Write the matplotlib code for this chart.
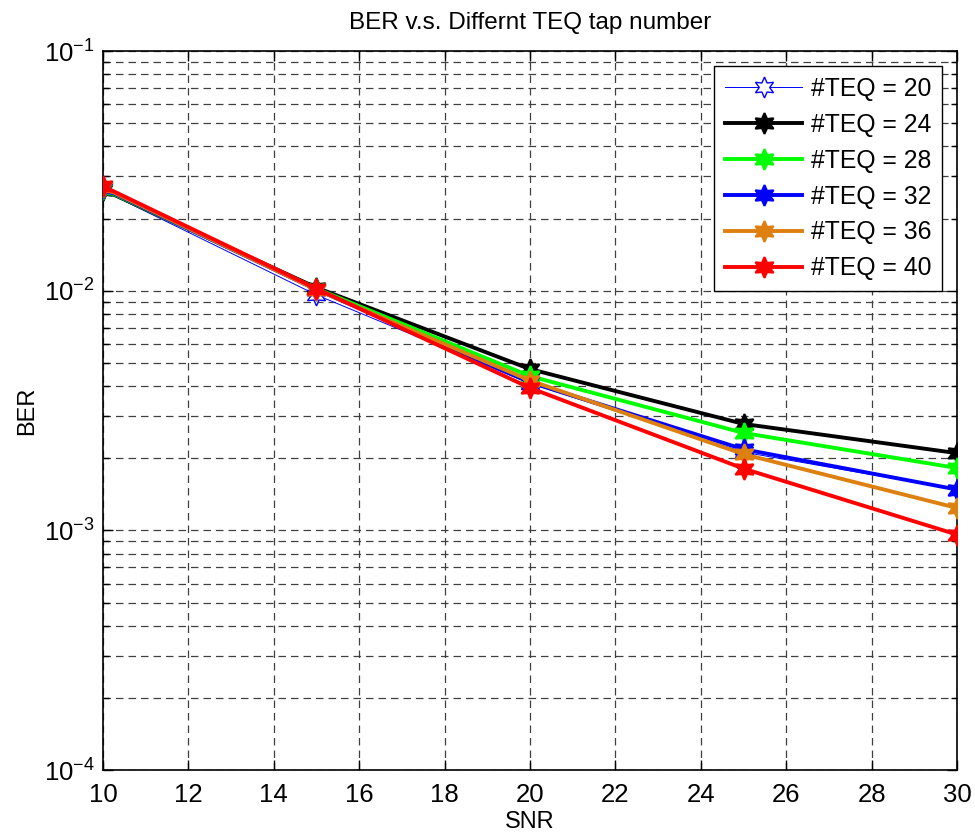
import matplotlib
matplotlib.use("Agg")
import matplotlib.pyplot as plt
from matplotlib.ticker import LogLocator, FuncFormatter, NullFormatter
import numpy as np

plt.rcParams['font.family'] = ['Liberation Sans', 'DejaVu Sans']
plt.rcParams['mathtext.fontset'] = 'custom'
plt.rcParams['mathtext.rm'] = 'Liberation Sans'
plt.rcParams['mathtext.it'] = 'Liberation Sans'
plt.rcParams['mathtext.default'] = 'regular'

snr = [10, 15, 20, 25, 30]
teq_labels = ['#TEQ = 20', '#TEQ = 24', '#TEQ = 28', '#TEQ = 32', '#TEQ = 36', '#TEQ = 40']
ber_teq20 = [0.0262, 0.0096, 0.0041, 0.00212, 0.00148]
ber_teq24 = [0.0264, 0.0103, 0.00471, 0.00278, 0.00210]
ber_teq28 = [0.0266, 0.0102, 0.00440, 0.00255, 0.00182]
ber_teq32 = [0.0268, 0.0101, 0.00415, 0.00218, 0.00148]
ber_teq36 = [0.0270, 0.0101, 0.00422, 0.00208, 0.00124]
ber_teq40 = [0.0273, 0.0102, 0.00393, 0.00181, 0.00096]

series = [ber_teq20, ber_teq24, ber_teq28, ber_teq32, ber_teq36, ber_teq40]
colors = ['#0000ff', '#000000', '#00ff00', '#0000ff', '#dd8010', '#ff0000']

fig = plt.figure(figsize=(9.75, 8.34), dpi=100)
ax = fig.add_axes([0.1056, 0.0767, 0.876, 0.8621])

hexagram = (6, 1, 0)
for i, (vals, lab, col) in enumerate(zip(series, teq_labels, colors)):
    if i == 0:
        ax.plot(snr, vals, color=col, lw=0.7, marker=hexagram, ms=15,
                mfc='white', mec=col, mew=1.0, label=lab, zorder=3)
    else:
        ax.plot(snr, vals, color=col, lw=2.8, marker=hexagram, ms=15,
                mfc=col, mec=col, mew=1.5, label=lab, zorder=3 + i)

ax.set_yscale('log')
ax.set_xlim(10, 30)
ax.set_ylim(1e-4, 1e-1)
ax.set_xticks(np.arange(10, 31, 2))
ax.yaxis.set_major_locator(LogLocator(base=10, numticks=10))
ax.yaxis.set_minor_locator(LogLocator(base=10, subs=np.arange(2, 10), numticks=20))
ax.yaxis.set_minor_formatter(NullFormatter())
ax.yaxis.set_major_formatter(FuncFormatter(lambda v, p: r'$10^{%d}$' % int(round(np.log10(v)))))

ax.tick_params(axis='both', which='both', direction='in', top=True, right=True,
               labelsize=18.5, colors='black')
ax.tick_params(axis='x', which='major', pad=9)
ax.tick_params(axis='y', which='major', pad=6)
ax.tick_params(which='major', length=7, width=1)
ax.tick_params(which='minor', length=4, width=1)

grid_kw = dict(color='0.25', linestyle=(0, (6, 4)), linewidth=0.9)
ax.grid(True, which='major', axis='both', **grid_kw)
ax.grid(True, which='minor', axis='y', **grid_kw)
ax.set_axisbelow(True)

for sp in ax.spines.values():
    sp.set_linewidth(1.2)
    sp.set_color('black')

ax.set_xlabel('SNR', fontsize=17, labelpad=3)
ax.set_ylabel('BER', fontsize=17, labelpad=4)
ax.set_title('BER v.s. Differnt TEQ tap number', fontsize=17.5, pad=16)

leg = ax.legend(loc='upper right', fontsize=17.8, frameon=True, fancybox=False,
                edgecolor='black', framealpha=1, handlelength=3.1, handletextpad=0.35,
                borderaxespad=0.6, labelspacing=0.48, borderpad=0.45)
leg.get_frame().set_linewidth(1.0)

fig.savefig('out.png', dpi=100)
